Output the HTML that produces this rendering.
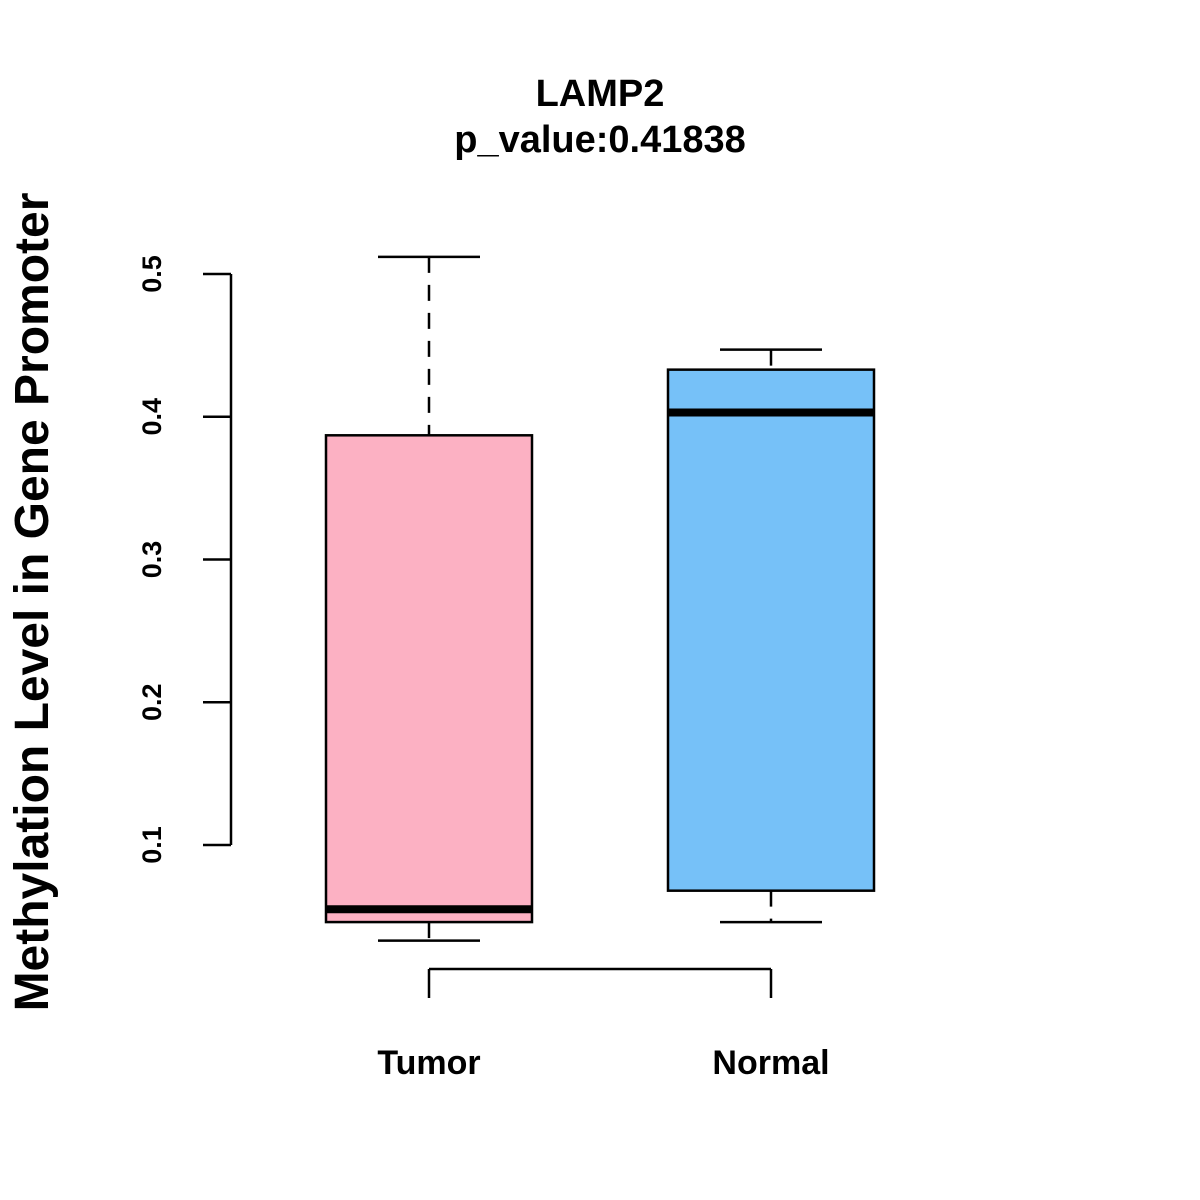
<!DOCTYPE html>
<html><head><meta charset="utf-8"><style>body{margin:0;background:#fff}svg{display:block}text{font-family:"Liberation Sans",Arial,sans-serif;font-weight:bold}</style></head>
<body>
<svg id="chart" width="1200" height="1200" viewBox="0 0 1200 1200">
<text x="600" y="106" font-size="38" text-anchor="middle">LAMP2</text>
<text x="600" y="152" font-size="38" text-anchor="middle">p_value:0.41838</text>
<text transform="translate(48,602) rotate(-90)" font-size="48" text-anchor="middle">Methylation Level in Gene Promoter</text>
<g id="yaxis"></g>
<g id="xaxis"></g>
<g id="boxes"></g>
</svg>
<script>
const categories = ["Tumor", "Normal"];
const whiskerLow = [0.033, 0.046];
const q1 = [0.046, 0.068];
const medians = [0.055, 0.403];
const q3 = [0.387, 0.433];
const whiskerHigh = [0.512, 0.447];
const colors = ["#FCB1C3", "#76C1F8"];
const yTicks = [0.1, 0.2, 0.3, 0.4, 0.5];
const yTickLabels = ["0.1", "0.2", "0.3", "0.4", "0.5"];

const NS = "http://www.w3.org/2000/svg";
function y(v){ return 845 - (v - 0.1) * 1427.5; }
function x(i){ return 429 + i * 342; }
function mk(tag, attrs, parent, text){
  const e = document.createElementNS(NS, tag);
  for (const k in attrs) e.setAttribute(k, attrs[k]);
  if (text !== undefined) e.textContent = text;
  parent.appendChild(e); return e;
}
const ya = document.getElementById('yaxis');
const l = mk('line', {x1:231, x2:231, y1:y(yTicks[0]), y2:y(yTicks[yTicks.length-1]), stroke:'#000','stroke-width':2.5}, ya);


yTicks.forEach((t, i) => {
  const tk = mk('line', {x1:203, x2:231, y1:y(t), y2:y(t), stroke:'#000','stroke-width':2.5}, ya);
  
  
  const tl = mk('text', {transform:`translate(161,${y(t)}) rotate(-90)`, 'font-size':27, 'text-anchor':'middle'}, ya, yTickLabels[i]);
  
  
});
const xa = document.getElementById('xaxis');
const xl = mk('line', {x1:x(0), x2:x(categories.length-1), y1:969, y2:969, stroke:'#000','stroke-width':2.5}, xa);


categories.forEach((c, i) => {
  const tk = mk('line', {x1:x(i), x2:x(i), y1:969, y2:998, stroke:'#000','stroke-width':2.5}, xa);
  
  
  const tl = mk('text', {x:x(i), y:1074, 'font-size':34, 'text-anchor':'middle'}, xa, c);
  
  
});
const bx = document.getElementById('boxes');
categories.forEach((c, i) => {
  const g = mk('g', {}, bx);
  
  
  const cx = x(i);
  const w1 = mk('line', {x1:cx, x2:cx, y1:y(whiskerHigh[i]), y2:y(q3[i]), stroke:'#000','stroke-width':2.5,'stroke-dasharray':'16,12'}, g);
  
  
  const w2 = mk('line', {x1:cx, x2:cx, y1:y(q1[i]), y2:y(whiskerLow[i]), stroke:'#000','stroke-width':2.5,'stroke-dasharray':'16,12'}, g);
  
  
  const c1 = mk('line', {x1:cx-51, x2:cx+51, y1:y(whiskerHigh[i]), y2:y(whiskerHigh[i]), stroke:'#000','stroke-width':2.5}, g);
  
  
  const c2 = mk('line', {x1:cx-51, x2:cx+51, y1:y(whiskerLow[i]), y2:y(whiskerLow[i]), stroke:'#000','stroke-width':2.5}, g);
  
  
  const r = mk('rect', {x:cx-103, width:206, y:y(q3[i]), height:y(q1[i])-y(q3[i]), fill:colors[i], stroke:'#000','stroke-width':2.5}, g);
  
  
  const m = mk('line', {x1:cx-103, x2:cx+103, y1:y(medians[i]), y2:y(medians[i]), stroke:'#000','stroke-width':8}, g);
  
  
});
</script>
</body></html>
